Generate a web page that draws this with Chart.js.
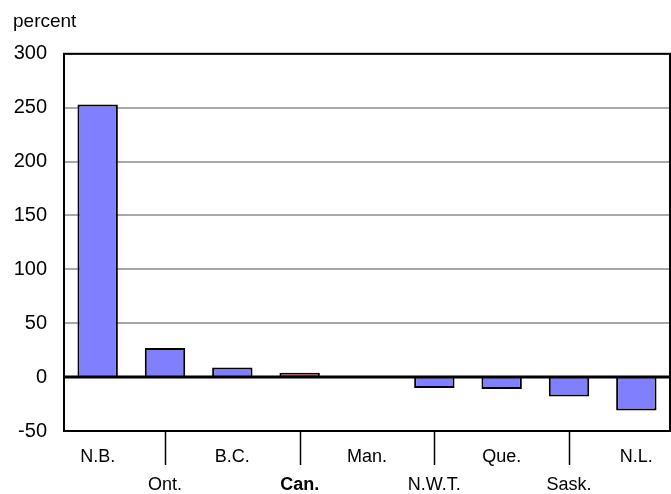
<!DOCTYPE html>
<html>
<head>
<meta charset="utf-8">
<script src="https://cdn.jsdelivr.net/npm/chart.js@4/dist/chart.umd.min.js"></script>
<style>
  html, body { margin: 0; padding: 0; background: #fff; }
  #wrap { width: 671px; height: 494px; }
</style>
</head>
<body>
<div id="wrap"><canvas id="chart"></canvas></div>
<script>
var provinces = ['N.B.', 'Ont.', 'B.C.', 'Can.', 'Man.', 'N.W.T.', 'Que.', 'Sask.', 'N.L.'];
var changes = [253, 27, 9, 4, 0.6, -10, -11, -18, -31];
var yTicks = [-50, 0, 50, 100, 150, 200, 250, 300];

var barBlue = '#8080ff';
var barRed = '#b24c4c';
var fontName = '"Liberation Sans Narrow", "Liberation Sans", Arial, sans-serif';

// staggered labels: even ones on the first row, odd ones on the second
var tickLabels = provinces.map((p, i) => i % 2 === 0 ? [p, ''] : ['', p]);

var framePlugin = {
    id: 'frame',
    afterDatasetsDraw(chart) {
        const ctx = chart.ctx;
        const area = chart.chartArea;
        const y = chart.scales.y;
        const x = chart.scales.x;
        ctx.save();
        // zero line
        ctx.strokeStyle = '#000';
        ctx.lineWidth = 3;
        ctx.beginPath();
        ctx.moveTo(area.left, y.getPixelForValue(0));
        ctx.lineTo(area.right, y.getPixelForValue(0));
        ctx.stroke();
        // frame
        ctx.lineWidth = 2;
        ctx.strokeRect(area.left, area.top, area.right - area.left, area.bottom - area.top);
        // tick lines under the second-row labels
        ctx.lineWidth = 1.5;
        for (let i = 1; i < provinces.length; i += 2) {
            const px = Math.round(x.getPixelForValue(i)) + 0.5;
            ctx.beginPath();
            ctx.moveTo(px, area.bottom);
            ctx.lineTo(px, area.bottom + 34);
            ctx.stroke();
        }
        ctx.restore();
    }
};

new Chart(document.getElementById('chart'), {
    type: 'bar',
    data: {
        labels: tickLabels,
        datasets: [{
            data: changes,
            backgroundColor: provinces.map(p => p === 'Can.' ? barRed : barBlue),
            borderColor: '#000',
            borderWidth: 2,
            borderSkipped: 'start',
            barPercentage: 0.6,
            categoryPercentage: 1
        }]
    },
    options: {
        responsive: true,
        maintainAspectRatio: false,
        animation: false,
        layout: { padding: { left: 13, right: 1, top: 0, bottom: 0 } },
        plugins: {
            legend: { display: false },
            tooltip: { enabled: false },
            title: {
                display: true,
                text: 'percent',
                align: 'start',
                color: '#000',
                font: { family: fontName, size: 19, weight: 'normal' },
                padding: { top: 10, bottom: 21 }
            }
        },
        scales: {
            x: {
                grid: { display: false, drawTicks: false },
                border: { display: false },
                ticks: {
                    color: '#000',
                    padding: 12,
                    maxRotation: 0,
                    autoSkip: false,
                    font: ctx => ({
                        family: fontName,
                        size: 18,
                        lineHeight: 1.56,
                        weight: provinces[ctx.index] === 'Can.' ? 'bold' : 'normal'
                    })
                },
                afterFit(scale) { scale.height = 63; }
            },
            y: {
                min: -50,
                max: 300,
                afterBuildTicks(scale) { scale.ticks = yTicks.map(v => ({ value: v })); },
                grid: {
                    color: '#a8a8a8',
                    lineWidth: 2,
                    drawTicks: false
                },
                border: { display: false },
                ticks: {
                    color: '#000',
                    padding: 17,
                    font: { family: fontName, size: 20 }
                },
                afterFit(scale) { scale.width = 51; }
            }
        }
    },
    plugins: [framePlugin]
});
</script>
</body>
</html>
